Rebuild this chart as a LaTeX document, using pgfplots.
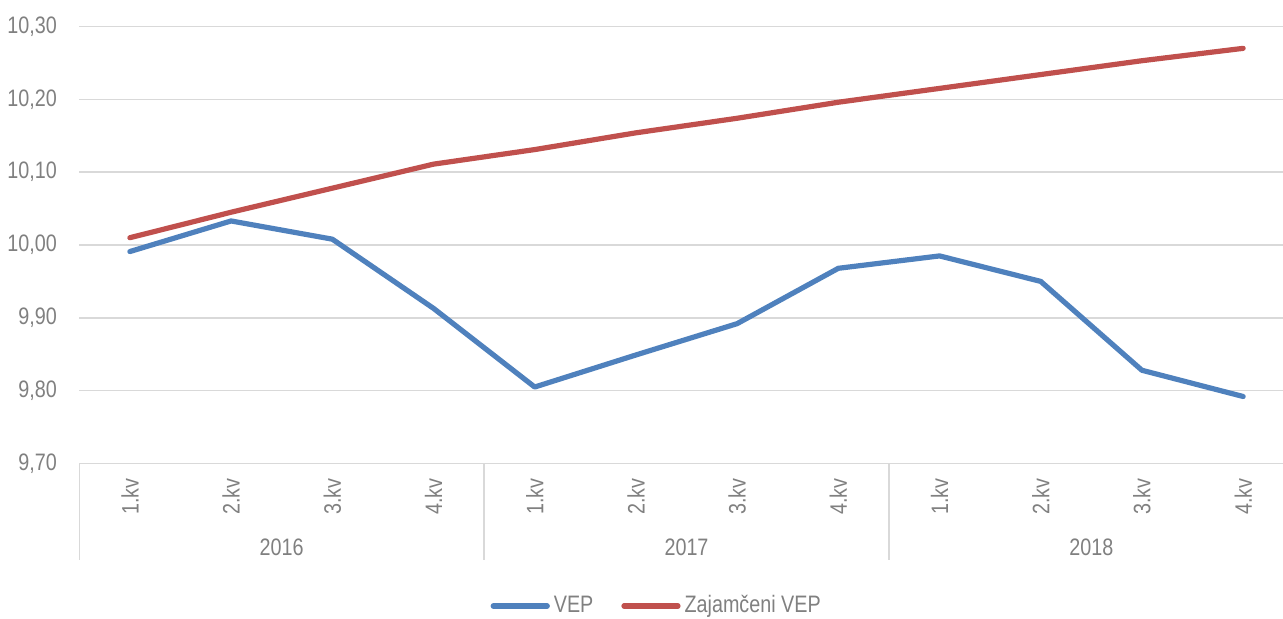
\documentclass[border=0pt]{standalone}
\usepackage{pgfplots}
\pgfplotsset{compat=1.18}
\usepackage{fontspec}
\setmainfont{Liberation Sans}[FakeStretch=0.83]
\definecolor{vepblue}{HTML}{4F81BD}
\definecolor{vepred}{HTML}{C0504D}
\definecolor{gridgray}{HTML}{D9D9D9}
\definecolor{txtgray}{HTML}{808080}
\begin{document}
\fontsize{11.9}{14}\selectfont
\begin{tikzpicture}
\path[use as bounding box] (-39.65pt,-77.75pt) rectangle (601.85pt,231.75pt);
\begin{axis}[
  scale only axis,
  width=601.85pt, height=218.5pt,
  at={(0pt,0pt)}, anchor=south west,
  xmin=-0.5, xmax=11.394,
  ymin=9.70, ymax=10.30,
  ytick={9.70,9.80,9.90,10.00,10.10,10.20,10.30},
  xtick={0,...,11},
  xticklabels={1.kv,2.kv,3.kv,4.kv,1.kv,2.kv,3.kv,4.kv,1.kv,2.kv,3.kv,4.kv},
  xtick pos=lower, ytick pos=left,
  major tick length=0pt,
  axis line style={draw=none},
  ymajorgrids,
  grid style={gridgray, line width=0.75pt},
  /pgf/number format/fixed,
  /pgf/number format/fixed zerofill,
  /pgf/number format/precision=2,
  /pgf/number format/use comma,
  /pgf/number format/assume math mode=true,
  every y tick label/.append style={font=\fontsize{11.9}{14}\selectfont, text=txtgray, anchor=east, inner sep=0pt, xshift=-11pt},
  every x tick label/.append style={font=\fontsize{11.9}{14}\selectfont, text=txtgray, rotate=90, anchor=east, inner sep=7.25pt},
  extra x ticks={-0.5,3.5,7.5},
  extra x tick labels={},
  extra x tick style={grid=none, major tick length=48pt, tick align=outside, tick style={draw=gridgray, line width=0.75pt}},
  clip=false,
  legend style={at={(0.4805,-0.326)}, anchor=center, draw=none, legend columns=2,
    font=\fontsize{11.9}{14}\selectfont, text=txtgray,
    /tikz/every even column/.append style={column sep=12pt}},
  legend cell align=left,
]
\addplot[vepblue, line width=2.6pt, line cap=round, line join=round,
  legend image code/.code={\draw[vepblue, line width=2.6pt, line cap=round] (0pt,0pt) -- (27pt,0pt);}]
  coordinates {(0,9.991) (1,10.033) (2,10.008) (3,9.913) (4,9.805) (5,9.849) (6,9.892) (7,9.968) (8,9.985) (9,9.950) (10,9.828) (11,9.792)};
\addlegendentry{VEP}
\addplot[vepred, line width=2.6pt, line cap=round, line join=round,
  legend image code/.code={\draw[vepred, line width=2.6pt, line cap=round] (0pt,0pt) -- (27pt,0pt);}]
  coordinates {(0,10.010) (1,10.045) (2,10.078) (3,10.111) (4,10.131) (5,10.154) (6,10.174) (7,10.196) (8,10.215) (9,10.234) (10,10.253) (11,10.270)};
\addlegendentry{Zajamčeni VEP}
\node[text=txtgray, yshift=-41.75pt] at (axis cs:1.5,9.70) {2016};
\node[text=txtgray, yshift=-41.75pt] at (axis cs:5.5,9.70) {2017};
\node[text=txtgray, yshift=-41.75pt] at (axis cs:9.5,9.70) {2018};
\end{axis}
\end{tikzpicture}
\end{document}
